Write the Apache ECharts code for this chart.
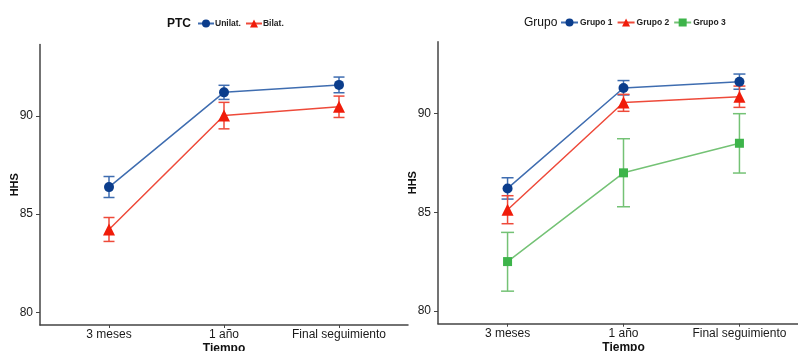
<!DOCTYPE html>
<html>
<head>
<meta charset="utf-8">
<script src="https://cdn.jsdelivr.net/npm/echarts@6/dist/echarts.min.js"></script>
<style>html,body{margin:0;padding:0;background:#fff}#c{width:798px;height:351px}</style>
</head>
<body>
<div id="c"></div>
<script>
// ---- data ----
var times = ['3 meses', '1 año', 'Final seguimiento'];
var yTicks = [80, 85, 90];

// Left panel: PTC
var unilatMean = [86.38, 91.21, 91.59];
var unilatLo   = [85.85, 90.85, 91.19];
var unilatHi   = [86.92, 91.57, 91.99];
var bilatMean  = [84.22, 90.03, 90.48];
var bilatLo    = [83.61, 89.35, 89.93];
var bilatHi    = [84.83, 90.70, 91.02];

// Right panel: Grupo
var g1Mean = [86.21, 91.30, 91.62];
var g1Lo   = [85.67, 90.95, 91.24];
var g1Hi   = [86.75, 91.68, 92.01];
var g2Mean = [85.13, 90.57, 90.86];
var g2Lo   = [84.42, 90.12, 90.32];
var g2Hi   = [85.84, 90.98, 91.40];
var g3Mean = [82.50, 87.00, 88.50];
var g3Lo   = [81.00, 85.28, 86.99];
var g3Hi   = [83.98, 88.73, 90.00];

// ---- build ----
var chart = echarts.init(document.getElementById('c'));
var FONT = 'Liberation Sans, Arial, sans-serif';

function pts(arr) { return arr.map(function (v, i) { return [i + 1, v]; }); }
function errs(lo, hi) { return lo.map(function (v, i) { return [i + 1, v, hi[i]]; }); }

function errSeries(name, lo, hi, color, idx, capHalf) {
  return {
    type: 'custom', name: name + '_err', xAxisIndex: idx, yAxisIndex: idx, z: 1,
    silent: true,
    renderItem: function (params, api) {
      var x = api.value(0);
      var a = api.coord([x, api.value(1)]);
      var b = api.coord([x, api.value(2)]);
      var st = { stroke: color, lineWidth: 1.5 };
      return { type: 'group', children: [
        { type: 'line', shape: { x1: a[0], y1: a[1], x2: b[0], y2: b[1] }, style: st },
        { type: 'line', shape: { x1: a[0] - capHalf, y1: a[1], x2: a[0] + capHalf, y2: a[1] }, style: st },
        { type: 'line', shape: { x1: b[0] - capHalf, y1: b[1], x2: b[0] + capHalf, y2: b[1] }, style: st }
      ]};
    },
    data: errs(lo, hi)
  };
}

function lineSeries(name, mean, lineColor, markColor, symbol, size, idx) {
  return {
    type: 'line', name: name, xAxisIndex: idx, yAxisIndex: idx, z: 3,
    data: pts(mean), symbol: symbol, symbolSize: size,
    lineStyle: { color: lineColor, width: 1.5 },
    itemStyle: { color: markColor, borderWidth: 0 },
    emphasis: { disabled: true }
  };
}

function xAxis(idx) {
  return {
    type: 'value', gridIndex: idx, min: 0.4, max: 3.6,
    name: 'Tiempo', nameLocation: 'middle', nameGap: 18, nameMoveOverlap: false,
    nameTextStyle: { fontFamily: FONT, fontSize: 12, color: '#111', fontWeight: 'bold' },
    axisLine: { lineStyle: { color: '#444', width: 1.5 } },
    axisTick: { show: true, length: 3, customValues: [1, 2, 3], lineStyle: { color: '#444' } },
    axisLabel: { customValues: [1, 2, 3], margin: 4, fontFamily: FONT, fontSize: 12, color: '#1a1a1a',
      formatter: function (v) { return times[Math.round(v) - 1] || ''; } },
    splitLine: { show: false }
  };
}
function yAxis(idx) {
  return {
    type: 'value', gridIndex: idx, min: 79.35, max: 93.65,
    name: 'HHS', nameLocation: 'middle', nameGap: 20, nameRotate: 90, nameMoveOverlap: false,
    nameTextStyle: { fontFamily: FONT, fontSize: 11, color: '#111', fontWeight: 'bold' },
    axisLine: { show: true, lineStyle: { color: '#444', width: 1.5 } },
    axisTick: { show: true, length: 4, customValues: yTicks, lineStyle: { color: '#444' } },
    axisLabel: { customValues: yTicks, margin: 7, fontFamily: FONT, fontSize: 12, color: '#1a1a1a' },
    splitLine: { show: false }
  };
}

var BLUE_L = '#3f6db0', BLUE_M = '#0b3d8c';
var RED_L = '#ee4a3a', RED_M = '#f01c0a';
var GRN_L = '#74c275', GRN_M = '#3db44a';

var option = {
  backgroundColor: '#fff',
  animation: false,
  title: [
    { text: 'PTC', left: 162, top: 13, textStyle: { fontFamily: FONT, fontSize: 12, fontWeight: 'bold', color: '#111' } },
    { text: 'Grupo', left: 519, top: 12, textStyle: { fontFamily: FONT, fontSize: 12, fontWeight: 'normal', color: '#111' } }
  ],
  legend: [
    { data: ['Unilat.', 'Bilat.'], left: 192, top: 14, itemWidth: 16, itemHeight: 10, itemGap: 4,
      textStyle: { fontFamily: FONT, fontSize: 8.5, fontWeight: 'bold', color: '#222', padding: [0, 0, 0, -4] } },
    { data: ['Grupo 1', 'Grupo 2', 'Grupo 3'], left: 555, top: 13, itemWidth: 17, itemHeight: 10, itemGap: 4,
      textStyle: { fontFamily: FONT, fontSize: 8.5, fontWeight: 'bold', color: '#222', padding: [0, 0, 0, -3] } }
  ],
  grid: [
    { left: 40, top: 44.5, width: 368, height: 280.5, outerBoundsMode: 'none', containLabel: false },
    { left: 438, top: 41.7, width: 371, height: 282, outerBoundsMode: 'none', containLabel: false }
  ],
  xAxis: [xAxis(0), xAxis(1)],
  yAxis: [yAxis(0), yAxis(1)],
  series: [
    errSeries('Unilat.', unilatLo, unilatHi, BLUE_L, 0, 5.5),
    errSeries('Bilat.', bilatLo, bilatHi, RED_L, 0, 5.5),
    lineSeries('Unilat.', unilatMean, BLUE_L, BLUE_M, 'circle', 10, 0),
    lineSeries('Bilat.', bilatMean, RED_L, RED_M, 'triangle', 12, 0),
    errSeries('Grupo 1', g1Lo, g1Hi, BLUE_L, 1, 6),
    errSeries('Grupo 2', g2Lo, g2Hi, RED_L, 1, 6),
    errSeries('Grupo 3', g3Lo, g3Hi, GRN_L, 1, 6.5),
    lineSeries('Grupo 1', g1Mean, BLUE_L, BLUE_M, 'circle', 10, 1),
    lineSeries('Grupo 2', g2Mean, RED_L, RED_M, 'triangle', 12, 1),
    lineSeries('Grupo 3', g3Mean, GRN_L, GRN_M, 'rect', 9, 1)
  ]
};
chart.setOption(option);
</script>
</body>
</html>
